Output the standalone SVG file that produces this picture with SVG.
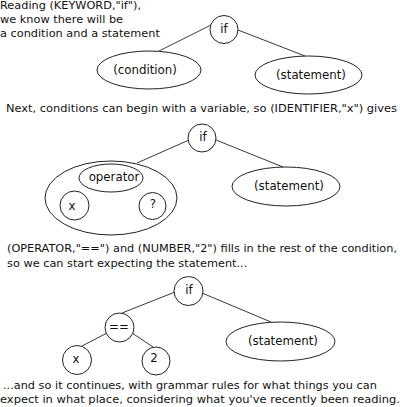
<svg xmlns="http://www.w3.org/2000/svg" width="400" height="407" viewBox="0 0 400 407">
<style>
text{font-family:"DejaVu Sans","Liberation Sans",sans-serif;font-size:11.3px;fill:#111}
.lbl{text-anchor:middle;dominant-baseline:central;font-size:11.8px}
.n{fill:#fff;stroke:#222;stroke-width:1}
#connectors line{stroke:#222;stroke-width:0.9}
</style>
<rect width="400" height="407" fill="#fff"/>
<g id="captions">
<text x="0" y="9">Reading (KEYWORD,"if"),</text>
<text x="0" y="23">we know there will be</text>
<text x="0" y="37">a condition and a statement</text>
<text x="6" y="112" textLength="391" lengthAdjust="spacingAndGlyphs">Next, conditions can begin with a variable, so (IDENTIFIER,"x") gives</text>
<text x="7" y="252" textLength="390" lengthAdjust="spacingAndGlyphs">(OPERATOR,"==") and (NUMBER,"2") fills in the rest of the condition,</text>
<text x="7" y="267">so we can start expecting the statement...</text>
<text x="3" y="389">...and so it continues, with grammar rules for what things you can</text>
<text x="0" y="403" textLength="400" lengthAdjust="spacingAndGlyphs">expect in what place, considering what you've recently been reading.</text>
</g>
<g id="connectors">
<line x1="159" y1="51" x2="211" y2="25"/>
<line x1="238" y1="30" x2="305" y2="56"/>
<line x1="137" y1="163" x2="189" y2="140"/>
<line x1="216" y1="140" x2="283" y2="167"/>
<line x1="85" y1="186" x2="77" y2="192"/>
<line x1="137" y1="187" x2="148" y2="193"/>
<line x1="175" y1="292" x2="122" y2="313"/>
<line x1="202" y1="293" x2="271" y2="322"/>
<line x1="107" y1="333" x2="82" y2="346"/>
<line x1="132" y1="333" x2="153" y2="347"/>
</g>
<g id="p1-if"><circle class="n" cx="224" cy="29.5" r="14"/><text class="lbl" x="224" y="29">if</text></g>
<g id="p1-condition"><ellipse class="n" cx="149" cy="70" rx="52" ry="19"/><text class="lbl" x="145" y="70">(condition)</text></g>
<g id="p1-statement"><ellipse class="n" cx="308.5" cy="75" rx="53.5" ry="19"/><text class="lbl" x="311" y="75">(statement)</text></g>
<g id="p2-if"><circle class="n" cx="202" cy="138" r="14"/><text class="lbl" x="203" y="137">if</text></g>
<g id="p2-condition"><ellipse class="n" cx="111" cy="198" rx="66" ry="37"/></g>
<g id="p2-operator"><ellipse class="n" cx="111" cy="178" rx="32" ry="14"/><text class="lbl" x="114" y="177">operator</text></g>
<g id="p2-x"><circle class="n" cx="74.5" cy="205.5" r="14.5"/><text class="lbl" x="72" y="206">x</text></g>
<g id="p2-q"><circle class="n" cx="152.5" cy="206" r="13.5"/><text class="lbl" x="153" y="204">?</text></g>
<g id="p2-statement"><ellipse class="n" cx="286" cy="186.5" rx="54" ry="19.5"/><text class="lbl" x="289" y="186">(statement)</text></g>
<g id="p3-if"><circle class="n" cx="188.5" cy="291" r="14.5"/><text class="lbl" x="189" y="290">if</text></g>
<g id="p3-eq"><circle class="n" cx="119.5" cy="327.5" r="14.5"/><text class="lbl" x="119" y="327">==</text></g>
<g id="p3-x"><circle class="n" cx="77" cy="360" r="14.5"/><text class="lbl" x="76" y="359">x</text></g>
<g id="p3-2"><circle class="n" cx="156" cy="361" r="14"/><text class="lbl" x="154" y="358">2</text></g>
<g id="p3-statement"><ellipse class="n" cx="280.5" cy="341.5" rx="54.5" ry="19.5"/><text class="lbl" x="283" y="341">(statement)</text></g>
</svg>
